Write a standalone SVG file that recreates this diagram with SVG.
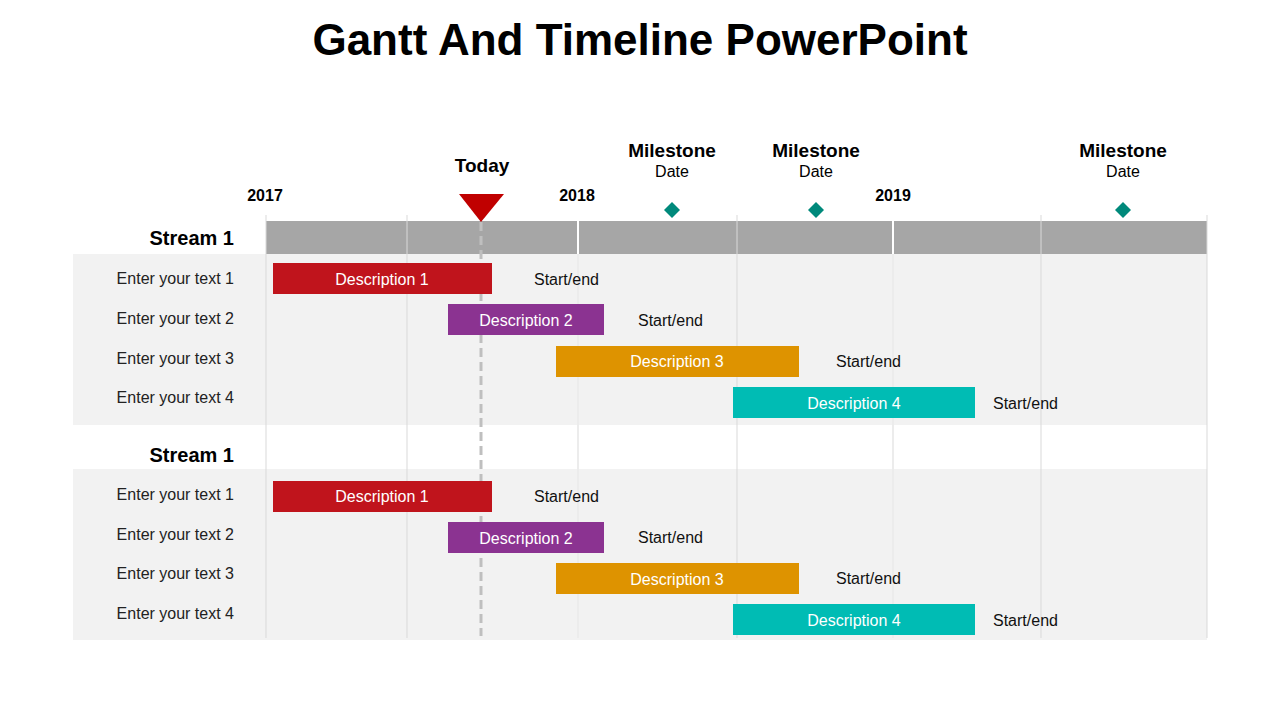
<svg xmlns="http://www.w3.org/2000/svg" width="1280" height="720" viewBox="0 0 1280 720">
<style>
text{font-family:"Liberation Sans",Arial,sans-serif}
.t{font-size:44px;font-weight:bold;text-anchor:middle}
.yr{font-size:16px;font-weight:bold;text-anchor:middle}
.ms{font-size:19px;font-weight:bold;text-anchor:middle}
.dt{font-size:16px;text-anchor:middle}
.st{font-size:20px;font-weight:bold;text-anchor:end}
.lb{font-size:16px;text-anchor:end;fill:#222}
.se{font-size:16px;fill:#111}
.d{font-size:16px;fill:#fff;text-anchor:middle}
.vl{stroke:#d9d9d9;stroke-width:1}
.dm{fill:#00897b}
</style>
<rect width="1280" height="720" fill="#fff"/>
<text class="t" x="640" y="55">Gantt And Timeline PowerPoint</text>
<rect x="73" y="254" width="1134" height="171" fill="#f2f2f2"/>
<rect x="73" y="469" width="1134" height="171" fill="#f2f2f2"/>
<rect x="266" y="221" width="941" height="33" fill="#a6a6a6"/>
<g id="grid">
<line class="vl" x1="266" y1="215" x2="266" y2="638"/>
<line class="vl" x1="407" y1="215" x2="407" y2="638"/>
<line x1="578" y1="215" x2="578" y2="638" stroke="#fff" stroke-width="2"/>
<line class="vl" x1="578" y1="254" x2="578" y2="638"/>
<line class="vl" x1="737" y1="215" x2="737" y2="638"/>
<line x1="893" y1="215" x2="893" y2="638" stroke="#fff" stroke-width="2"/>
<line class="vl" x1="893" y1="254" x2="893" y2="638"/>
<line class="vl" x1="1041" y1="215" x2="1041" y2="638"/>
<line class="vl" x1="1207" y1="215" x2="1207" y2="638"/>
</g>
<text class="yr" x="265" y="201">2017</text>
<text class="yr" x="577" y="201">2018</text>
<text class="yr" x="893" y="201">2019</text>
<text class="ms" x="482" y="172">Today</text>
<text class="ms" x="672" y="157">Milestone</text><text class="dt" x="672" y="177">Date</text>
<text class="ms" x="816" y="157">Milestone</text><text class="dt" x="816" y="177">Date</text>
<text class="ms" x="1123" y="157">Milestone</text><text class="dt" x="1123" y="177">Date</text>
<polygon class="dm" points="672,202 680,210 672,218 664,210"/>
<polygon class="dm" points="816,202 824,210 816,218 808,210"/>
<polygon class="dm" points="1123,202 1131,210 1123,218 1115,210"/>
<g id="connectors">
<line x1="481" y1="222" x2="481" y2="636" stroke="#bfbfbf" stroke-width="3" stroke-dasharray="9,5"/>
</g>
<polygon points="459,194 504,194 481,222" fill="#c00000"/>
<text class="st" x="234" y="245">Stream 1</text>
<text class="st" x="234" y="462">Stream 1</text>
<g id="s1">
<text class="lb" x="234" y="284">Enter your text 1</text>
<text class="lb" x="234" y="324">Enter your text 2</text>
<text class="lb" x="234" y="364">Enter your text 3</text>
<text class="lb" x="234" y="403">Enter your text 4</text>
<rect x="273" y="263" width="219" height="31" fill="#c0141c"/><text class="d" x="382" y="285">Description 1</text>
<rect x="448" y="304" width="156" height="31" fill="#8b3391"/><text class="d" x="526" y="326">Description 2</text>
<rect x="556" y="346" width="243" height="31" fill="#de9300"/><text class="d" x="677" y="367">Description 3</text>
<rect x="733" y="387" width="242" height="31" fill="#00bcb4"/><text class="d" x="854" y="409">Description 4</text>
<text class="se" x="534" y="285">Start/end</text>
<text class="se" x="638" y="326">Start/end</text>
<text class="se" x="836" y="367">Start/end</text>
<text class="se" x="993" y="409">Start/end</text>
</g>
<g id="s2">
<text class="lb" x="234" y="500">Enter your text 1</text>
<text class="lb" x="234" y="540">Enter your text 2</text>
<text class="lb" x="234" y="579">Enter your text 3</text>
<text class="lb" x="234" y="619">Enter your text 4</text>
<rect x="273" y="481" width="219" height="31" fill="#c0141c"/><text class="d" x="382" y="502">Description 1</text>
<rect x="448" y="522" width="156" height="31" fill="#8b3391"/><text class="d" x="526" y="544">Description 2</text>
<rect x="556" y="563" width="243" height="31" fill="#de9300"/><text class="d" x="677" y="585">Description 3</text>
<rect x="733" y="604" width="242" height="31" fill="#00bcb4"/><text class="d" x="854" y="626">Description 4</text>
<text class="se" x="534" y="502">Start/end</text>
<text class="se" x="638" y="543">Start/end</text>
<text class="se" x="836" y="584">Start/end</text>
<text class="se" x="993" y="626">Start/end</text>
</g>
</svg>
